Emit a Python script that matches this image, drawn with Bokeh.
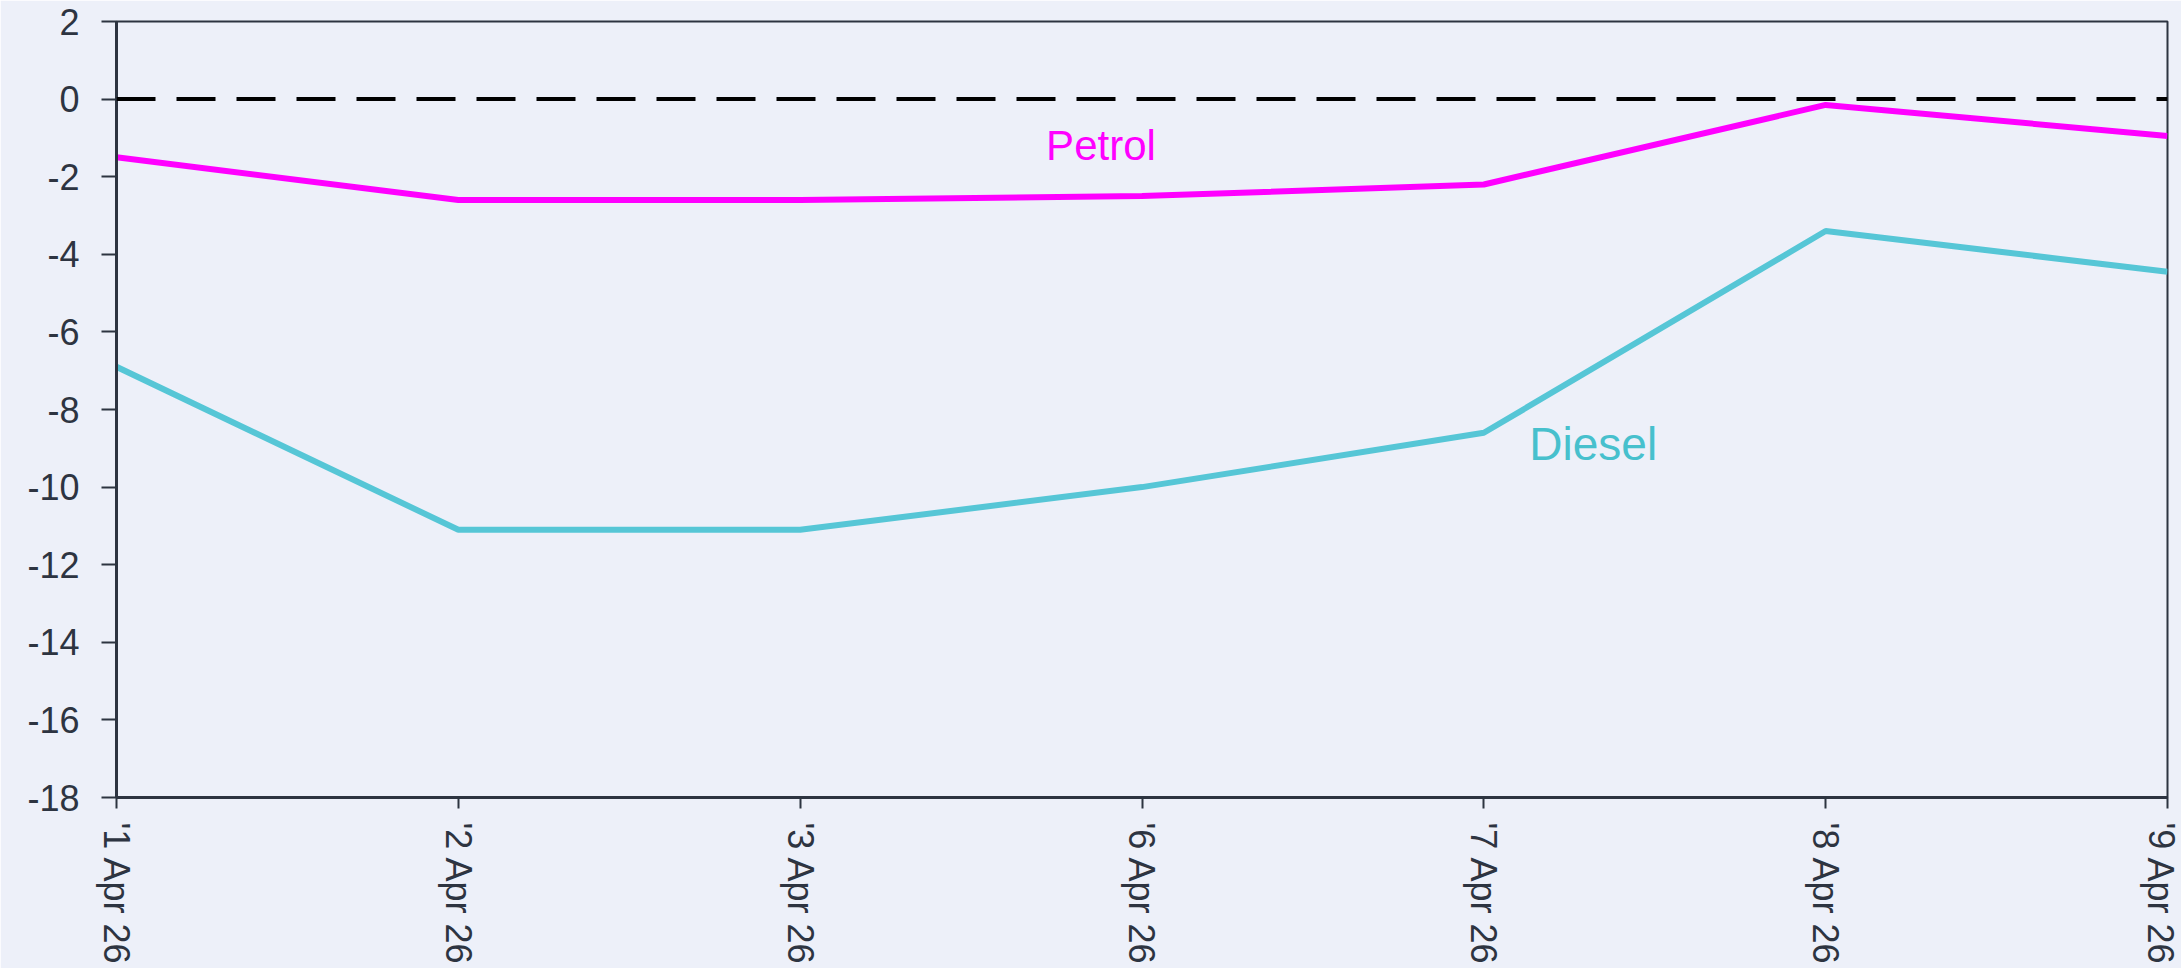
from bokeh.plotting import figure
from bokeh.models import Range1d, FixedTicker, Span, Label
from bokeh.embed import file_html
from bokeh.resources import INLINE

dates = ["'1 Apr 26", "'2 Apr 26", "'3 Apr 26", "'6 Apr 26", "'7 Apr 26", "'8 Apr 26", "'9 Apr 26"]
petrol = [-1.5, -2.6, -2.6, -2.5, -2.2, -0.15, -0.95]
diesel = [-6.9, -11.1, -11.1, -10.0, -8.6, -3.4, -4.45]
y_ticks = [2, 0, -2, -4, -6, -8, -10, -12, -14, -16, -18]

BG = "#edf0f9"
AX = "#2d3441"
FONT = "Liberation Sans"

xs = list(range(len(dates)))

p = figure(output_backend="svg", toolbar_location=None,
           frame_width=2051, frame_height=776,
           min_border_left=116, min_border_top=21, min_border_right=14, min_border_bottom=0,
           x_range=Range1d(0, len(dates) - 1), y_range=Range1d(-18, 2))
p.background_fill_color = BG
p.border_fill_color = BG
p.outline_line_color = AX
p.outline_line_width = 2
p.grid.visible = False

p.xaxis.ticker = FixedTicker(ticks=xs)
p.xaxis.major_label_overrides = {i: d for i, d in enumerate(dates)}
p.xaxis.major_label_orientation = -1.5708
p.xaxis.major_tick_out = 11
p.xaxis.major_tick_in = 0
p.xaxis.major_label_standoff = 14
p.yaxis.ticker = FixedTicker(ticks=y_ticks)
p.yaxis.major_label_overrides = {t: str(t) for t in y_ticks}
p.yaxis.major_tick_out = 15
p.yaxis.major_tick_in = 0
p.yaxis.major_label_standoff = 22
for ax in (p.xaxis, p.yaxis):
    ax.minor_tick_line_color = None
    ax.axis_line_color = AX
    ax.axis_line_width = 3
    ax.major_tick_line_color = AX
    ax.major_tick_line_width = 2
    ax.major_label_text_color = AX
    ax.major_label_text_font = FONT
    ax.major_label_text_font_size = "36px"

p.add_layout(Span(location=0, dimension="width", line_color="black", line_width=4, line_dash="39 21"))

p.line(xs, petrol, line_color="#ff00ff", line_width=6)
p.line(xs, diesel, line_color="#56c6d6", line_width=6)

p.add_layout(Label(x=2.88, y=-1.2, text="Petrol", text_color="#ff00ff", text_font=FONT,
                   text_font_size="42px", text_align="center", text_baseline="middle"))
p.add_layout(Label(x=4.32, y=-8.9, text="Diesel", text_color="#47c0cd", text_font=FONT,
                   text_font_size="46px", text_align="center", text_baseline="middle"))

open("out.html", "w").write(file_html(p, INLINE))
